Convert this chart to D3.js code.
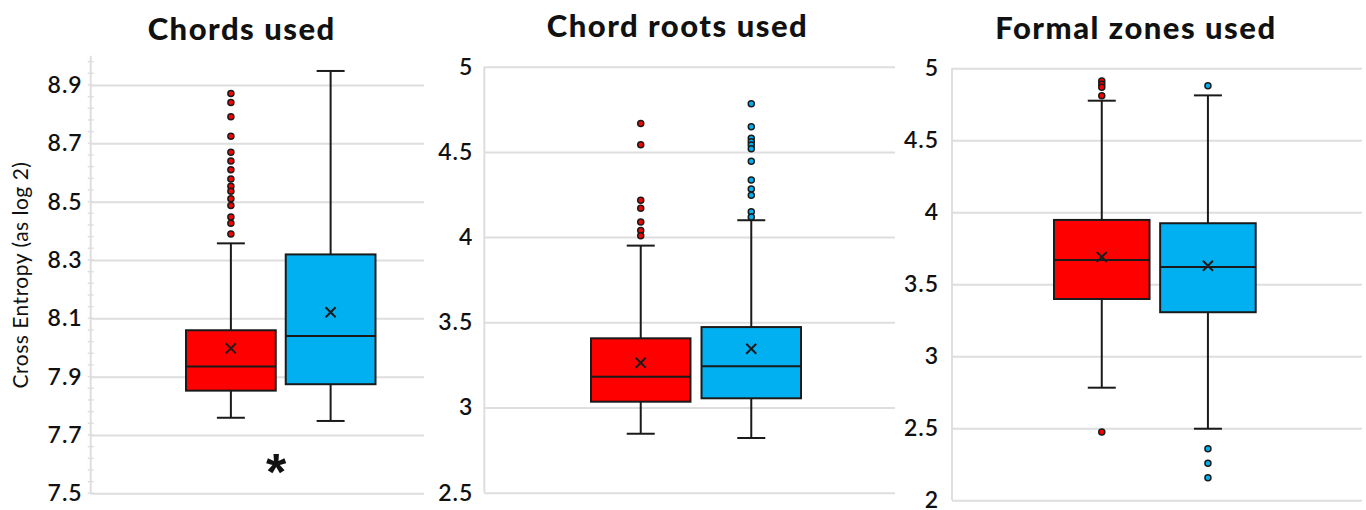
<!DOCTYPE html>
<html>
<head>
<meta charset="utf-8">
<script src="https://cdn.jsdelivr.net/npm/d3@7"></script>
<style>
  body { margin: 0; background: #fff; }
  svg { display: block; }
  text { font-family: Lato, "Open Sans", sans-serif; fill: #111; }
</style>
</head>
<body>
<svg id="chart" width="1366" height="510"></svg>
<script>
// series (two groups, red and blue)
var seriesNames = ["Group 1", "Group 2"];
var seriesColors = ["#ff0000", "#00b0f0"];

var panelTitles = ["Chords used", "Chord roots used", "Formal zones used"];
var yTitle = "Cross Entropy (as log 2)";

// axis domains and tick labels
var chordsDomain = [7.5, 9.0];
var rootsDomain = [2.5, 5];
var zonesDomain = [2, 5];
var chordsTicks = ["7.5", "7.7", "7.9", "8.1", "8.3", "8.5", "8.7", "8.9"];
var rootsTicks = ["2.5", "3", "3.5", "4", "4.5", "5"];
var zonesTicks = ["2", "2.5", "3", "3.5", "4", "4.5", "5"];

// box stats per series: [low whisker, q1, median, q3, high whisker, mean]
var chordsStats = [
  [7.759, 7.852, 7.935, 8.059, 8.357, 7.997],
  [7.748, 7.874, 8.039, 8.319, 8.948, 8.121]
];
var chordsOutliers = [
  [8.871, 8.840, 8.791, 8.724, 8.669, 8.639, 8.609, 8.578, 8.553, 8.536, 8.510, 8.487, 8.447, 8.426, 8.389],
  []
];
var rootsStats = [
  [2.846, 3.034, 3.181, 3.406, 3.950, 3.263],
  [2.821, 3.054, 3.242, 3.472, 4.099, 3.345]
];
var rootsOutliers = [
  [4.666, 4.542, 4.216, 4.169, 4.089, 4.038, 4.008],
  [4.783, 4.648, 4.580, 4.560, 4.541, 4.519, 4.445, 4.335, 4.282, 4.245, 4.149, 4.118]
];
var zonesStats = [
  [2.782, 3.398, 3.669, 3.947, 4.775, 3.690],
  [2.497, 3.306, 3.620, 3.924, 4.812, 3.629]
];
var zonesOutliers = [
  [4.912, 4.890, 4.868, 4.810, 2.474],
  [4.879, 2.358, 2.257, 2.157]
];

// layout of the three panels
var layout = [
  { left: 90.7, right: 424, top: 55.8, bottom: 493.3, boxLeft: 186, boxRight: 375.5,
    titleX: 241.7, titleY: 40, pad: 8, minorStep: 0.04 },
  { left: 484.3, right: 895, top: 66.7, bottom: 492.7, boxLeft: 591, boxRight: 801,
    titleX: 677.5, titleY: 37, pad: 11, minorStep: null },
  { left: 952, right: 1362, top: 68.3, bottom: 500.3, boxLeft: 1054, boxRight: 1255.7,
    titleX: 1136, titleY: 39, pad: 13, minorStep: null }
];

var panels = [
  { title: panelTitles[0], domain: chordsDomain, ticks: chordsTicks, stats: chordsStats, outliers: chordsOutliers },
  { title: panelTitles[1], domain: rootsDomain, ticks: rootsTicks, stats: rootsStats, outliers: rootsOutliers },
  { title: panelTitles[2], domain: zonesDomain, ticks: zonesTicks, stats: zonesStats, outliers: zonesOutliers }
];

var svg = d3.select("#chart");
var gridColor = "#dedede";
var ink = "#1a1a1a";

panels.forEach(function (p, i) {
  var L = layout[i];
  var g = svg.append("g").attr("class", "panel");

  var y = d3.scaleLinear().domain(p.domain).range([L.bottom, L.top]);
  var x = d3.scaleBand().domain(seriesNames).range([L.boxLeft, L.boxRight]).paddingInner(0.1);

  // gridlines + labels
  var yAxis = d3.axisLeft(y)
    .tickValues(p.ticks.map(Number))
    .tickFormat(function (d, k) { return p.ticks[k]; })
    .tickSize(-(L.right - L.left))
    .tickSizeOuter(0)
    .tickPadding(L.pad);

  var gy = g.append("g")
    .attr("transform", "translate(" + L.left + ",0)")
    .call(yAxis);
  gy.select(".domain").remove();
  gy.selectAll(".tick line").attr("stroke", gridColor).attr("stroke-width", 2);
  gy.selectAll(".tick text")
    .style("font-family", "Lato, 'Open Sans', sans-serif")
    .style("font-size", "23px")
    .style("font-weight", "600")
    .style("letter-spacing", "1px")
    .attr("fill", "#111");

  // axis line
  g.append("line")
    .attr("x1", L.left).attr("x2", L.left)
    .attr("y1", y(p.domain[0])).attr("y2", y(p.domain[1]))
    .attr("stroke", gridColor).attr("stroke-width", 2);

  if (L.minorStep) {
    var minor = d3.range(p.domain[0], p.domain[1] + 1e-6, L.minorStep);
    g.selectAll(".minor").data(minor).enter().append("line")
      .attr("class", "minor")
      .attr("x1", L.left - 3).attr("x2", L.left + 3)
      .attr("y1", function (d) { return y(d); })
      .attr("y2", function (d) { return y(d); })
      .attr("stroke", gridColor).attr("stroke-width", 1.5);
  }

  // title
  g.append("text")
    .attr("x", L.titleX).attr("y", L.titleY)
    .attr("text-anchor", "middle")
    .style("font-size", "31px")
    .style("font-weight", "900")
    .style("letter-spacing", "1.5px")
    .text(p.title);

  // boxes
  seriesNames.forEach(function (name, s) {
    var st = p.stats[s];
    var cx = x(name) + x.bandwidth() / 2;
    var bw = x.bandwidth();
    var cap = 14;
    var bg = g.append("g").attr("class", "box");

    // whiskers
    bg.append("line").attr("x1", cx).attr("x2", cx)
      .attr("y1", y(st[0])).attr("y2", y(st[1]))
      .attr("stroke", ink).attr("stroke-width", 2);
    bg.append("line").attr("x1", cx).attr("x2", cx)
      .attr("y1", y(st[3])).attr("y2", y(st[4]))
      .attr("stroke", ink).attr("stroke-width", 2);
    [st[0], st[4]].forEach(function (v) {
      bg.append("line").attr("x1", cx - cap).attr("x2", cx + cap)
        .attr("y1", y(v)).attr("y2", y(v))
        .attr("stroke", ink).attr("stroke-width", 2);
    });

    bg.append("rect")
      .attr("x", x(name)).attr("width", bw)
      .attr("y", y(st[3])).attr("height", y(st[1]) - y(st[3]))
      .attr("fill", seriesColors[s])
      .attr("stroke", ink).attr("stroke-width", 2);

    bg.append("line").attr("x1", x(name)).attr("x2", x(name) + bw)
      .attr("y1", y(st[2])).attr("y2", y(st[2]))
      .attr("stroke", ink).attr("stroke-width", 2);

    // mean marker
    var my = y(st[5]), m = 5;
    bg.append("path")
      .attr("d", "M" + (cx - m) + "," + (my - m) + "L" + (cx + m) + "," + (my + m) +
                 "M" + (cx - m) + "," + (my + m) + "L" + (cx + m) + "," + (my - m))
      .attr("stroke", ink).attr("stroke-width", 2);

    // outliers
    bg.selectAll(".out").data(p.outliers[s]).enter().append("circle")
      .attr("class", "out")
      .attr("cx", cx)
      .attr("cy", function (d) { return y(d); })
      .attr("r", 3)
      .attr("fill", seriesColors[s])
      .attr("stroke", ink).attr("stroke-width", 1.5);
  });

  if (i === 0) {
    g.append("text")
      .attr("transform", "translate(28,275) rotate(-90)")
      .attr("text-anchor", "middle")
      .style("font-size", "21px")
      .style("letter-spacing", "0.5px")
      .text(yTitle);

    // significance mark
    g.append("text")
      .attr("x", 276).attr("y", 490)
      .attr("text-anchor", "middle")
      .style("font-family", "'Liberation Sans', sans-serif")
      .style("font-size", "52px")
      .style("font-weight", "bold")
      .text("*");
  }
});
</script>
</body>
</html>
